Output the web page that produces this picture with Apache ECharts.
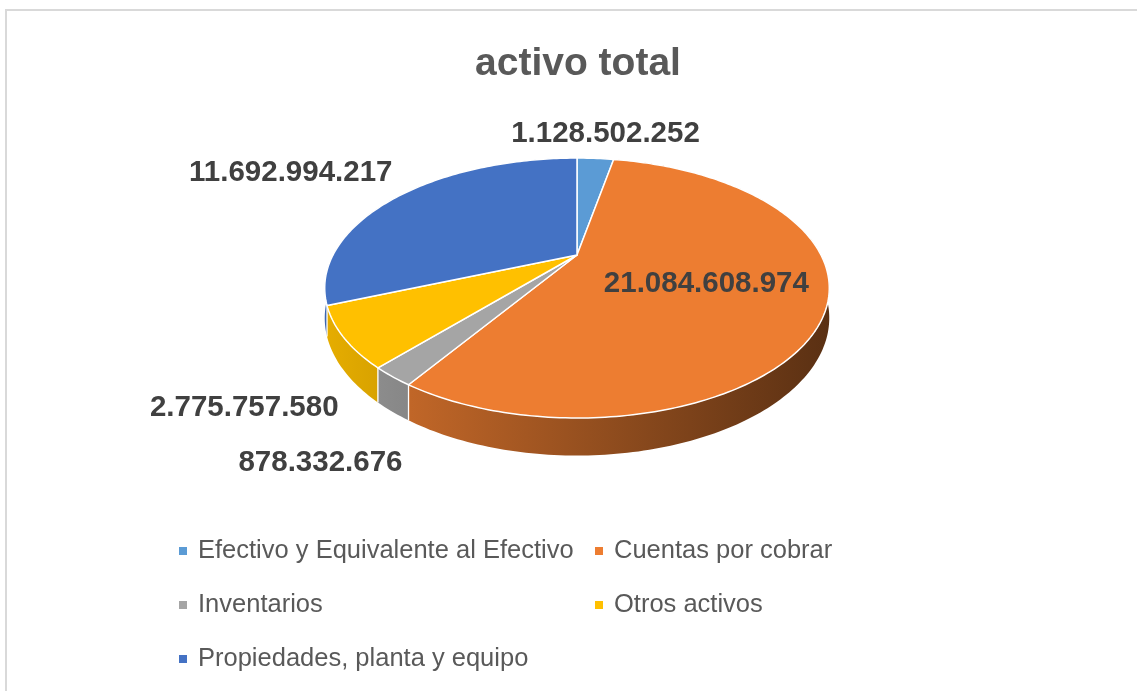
<!DOCTYPE html>
<html>
<head>
<meta charset="utf-8">
<script src="https://cdn.jsdelivr.net/npm/echarts@6/dist/echarts.min.js"></script>
<style>
  html, body { margin: 0; padding: 0; background: #fff; overflow: hidden; }
  #chart { width: 1137px; height: 691px; }
</style>
</head>
<body>
<div id="chart"></div>
<script>
const categories = [
    'Efectivo y Equivalente al Efectivo',
    'Cuentas por cobrar',
    'Inventarios',
    'Otros activos',
    'Propiedades, planta y equipo'
];
const values = [1128502252, 21084608974, 878332676, 2775757580, 11692994217];
const colors = ['#5B9BD5', '#ED7D31', '#A5A5A5', '#FFC000', '#4472C4'];

// label tweaks (px) on top of the computed anchor, like excel's "best fit"
const labelNudge = [[9, -3], [-2, 3], [29, 23], [17, 14], [5, -4]];
const insideLabel = [false, true, false, false, false];

const total = values.reduce((a, b) => a + b, 0);
const starts = [];
let acc = 0;
values.forEach(v => { starts.push(acc / total * 360); acc += v; });

// pie geometry: tilted disc with a bit of perspective
const CX = 577, CY = 255, RX = 244, RY = 121.6, K = 0.254, DEPTH = 28;

function proj(r, deg, z) {
    const t = deg * Math.PI / 180;
    const u = r * Math.sin(t), v = -r * Math.cos(t);
    const d = 1 - K * v;
    return [CX + RX * u / d, CY + (RY * v + z * DEPTH) / d];
}

function arc(a0, a1, z) {
    const pts = [];
    const n = Math.max(2, Math.ceil(a1 - a0));
    for (let i = 0; i <= n; i++) pts.push(proj(1, a0 + (a1 - a0) * i / n, z));
    return pts;
}

function shade(hex, f) {
    const n = parseInt(hex.slice(1), 16);
    const r = Math.round(((n >> 16) & 255) * f);
    const g = Math.round(((n >> 8) & 255) * f);
    const b = Math.round((n & 255) * f);
    return 'rgb(' + r + ',' + g + ',' + b + ')';
}

function fmt(v) {
    return String(v).replace(/\B(?=(\d{3})+(?!\d))/g, '.');
}

function sliceRenderer(i) {
    return function (params, api) {
        const val = api.value(0);
        const a0 = starts[i];
        const a1 = a0 + val / total * 360;
        const mid = (a0 + a1) / 2;
        const c = colors[i];

        const wall = arc(a0, a1, 0).concat(arc(a0, a1, 1).reverse());
        const top = [[CX, CY]].concat(arc(a0, a1, 0));

        // label anchor
        let lx, ly, align = 'center', valign = 'middle';
        if (insideLabel[i]) {
            [lx, ly] = proj(0.55, mid, 0);
        } else {
            const t = mid * Math.PI / 180;
            const u = Math.sin(t), v = -Math.cos(t);
            [lx, ly] = proj(1.08, mid, v > 0 ? 1 : 0);
            if (u < -0.3) align = 'right'; else if (u > 0.3) align = 'left';
            if (v > 0.3) valign = 'top'; else if (v < -0.3) valign = 'bottom';
        }
        lx += labelNudge[i][0];
        ly += labelNudge[i][1];

        const p = proj(1, a0, 0), q = proj(1, a0, 1);

        return {
            type: 'group',
            children: [
                {
                    type: 'polygon',
                    z2: 1,
                    shape: { points: wall },
                    style: {
                        fill: {
                            type: 'linear', x: 325, y: 0, x2: 830, y2: 0, global: true,
                            colorStops: [
                                { offset: 0, color: shade(c, 0.9) },
                                { offset: 1, color: shade(c, 0.38) }
                            ]
                        }
                    }
                },
                {
                    type: 'line',
                    z2: 2,
                    shape: { x1: p[0], y1: p[1], x2: q[0], y2: q[1] },
                    style: { stroke: '#ffffff', lineWidth: 1.3 }
                },
                {
                    type: 'polygon',
                    z2: 10,
                    shape: { points: top },
                    style: { fill: c, stroke: '#ffffff', lineWidth: 1.5, lineJoin: 'round' }
                },
                {
                    type: 'text',
                    z2: 20,
                    style: {
                        text: fmt(val),
                        x: lx, y: ly,
                        align: align, textAlign: align,
                        verticalAlign: valign, textVerticalAlign: valign,
                        fill: '#404040',
                        font: 'bold 29.5px "Liberation Sans", Arial, sans-serif'
                    }
                }
            ]
        };
    };
}

const myChart = echarts.init(document.getElementById('chart'));

const option = {
    animation: false,
    backgroundColor: '#ffffff',
    title: {
        text: 'activo total',
        left: 578,
        top: 45,
        padding: 0,
        textAlign: 'center',
        textStyle: {
            fontFamily: '"Liberation Sans", Arial, sans-serif',
            fontSize: 39,
            fontWeight: 'bold',
            color: '#595959'
        }
    },
    legend: {
        data: categories,
        left: 179,
        top: 529,
        width: 860,
        padding: 0,
        icon: 'rect',
        itemWidth: 8,
        itemHeight: 8,
        itemGap: 10,
        selectedMode: false,
        textStyle: {
            fontFamily: '"Liberation Sans", Arial, sans-serif',
            fontSize: 25.5,
            color: '#595959',
            lineHeight: 44,
            width: 387,
            padding: [0, 0, 0, 6]
        }
    },
    // frame of the chart area: only the top and left edges are visible
    graphic: [
        { type: 'rect', silent: true, shape: { x: 5, y: 9, width: 1137, height: 2 }, style: { fill: '#d9d9d9' } },
        { type: 'rect', silent: true, shape: { x: 5, y: 9, width: 2, height: 691 }, style: { fill: '#d9d9d9' } }
    ],
    series: categories.map((name, i) => ({
        type: 'custom',
        name: name,
        coordinateSystem: 'none',
        silent: true,
        itemStyle: { color: colors[i] },
        renderItem: sliceRenderer(i),
        data: [[values[i]]]
    }))
};

myChart.setOption(option);
</script>
</body>
</html>
